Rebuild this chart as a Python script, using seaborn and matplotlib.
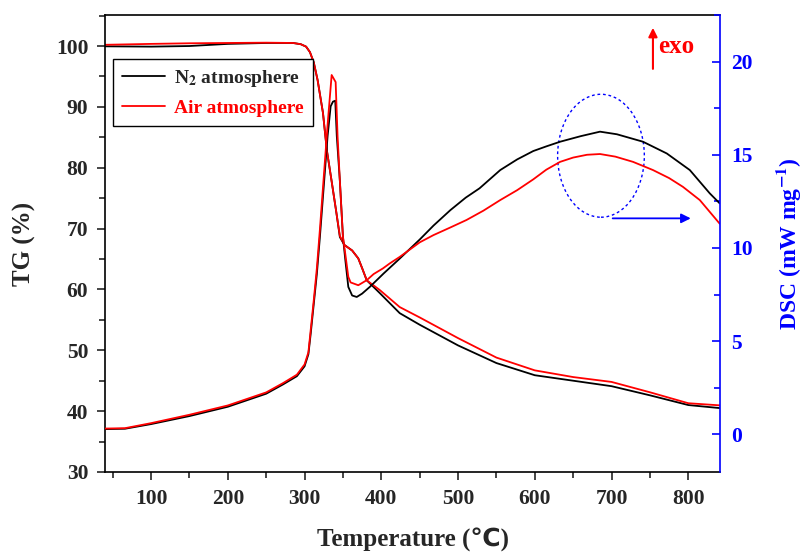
import numpy as np
import pandas as pd
import matplotlib
matplotlib.use("Agg")
import matplotlib.pyplot as plt
import seaborn as sns
from matplotlib.ticker import MultipleLocator
from matplotlib.patches import Ellipse
from matplotlib.lines import Line2D

# ---------------- data ----------------
tg_air_T = [40, 100, 150, 200, 250, 285, 295, 302, 307, 312, 317, 324, 329, 335, 341, 346, 352, 362, 370, 375, 381,
            398, 424, 450, 500, 550, 600, 650, 700, 750, 800, 841]
tg_air = [100.2, 100.35, 100.45, 100.5, 100.55, 100.5, 100.3, 99.9, 99.0, 97.3, 94.4, 89.0, 82.9, 78.0, 73.0, 68.8,
          67.3, 66.4, 65.1, 63.5, 61.5, 59.9, 57.1, 55.4, 52.0, 48.8, 46.7, 45.6, 44.8, 43.1, 41.3, 40.95]

tg_n2_T = [40, 100, 150, 200, 250, 285, 295, 302, 307, 312, 317, 324, 329, 335, 341, 346, 352, 362, 370, 375, 381,
           398, 424, 450, 500, 550, 600, 650, 700, 750, 800, 841]
tg_n2 = [99.95, 99.9, 100.0, 100.35, 100.5, 100.5, 100.3, 99.9, 99.0, 97.3, 94.4, 89.0, 82.9, 78.0, 73.0, 68.6,
         67.3, 66.4, 65.1, 63.5, 61.5, 59.4, 56.1, 54.2, 50.8, 47.9, 45.9, 45.0, 44.1, 42.6, 41.0, 40.5]

dsc_air_T = [40, 66, 100, 150, 200, 250, 272, 290, 300, 305, 308, 312, 316, 320, 325, 330, 335.3, 340.5, 343,
             346, 350, 353, 357, 360, 370, 381, 390, 402, 411, 424, 450, 468, 490, 511, 533, 555, 577, 598, 615,
             633, 650, 668, 685, 705, 728, 754, 775, 793, 815, 841]
dsc_air = [0.31, 0.33, 0.6, 1.05, 1.55, 2.25, 2.75, 3.2, 3.75, 4.4, 5.6, 7.2, 8.9, 11.0, 13.8, 16.6, 19.28, 18.9,
           16.0, 13.6, 10.6, 9.7, 8.45, 8.15, 8.0, 8.27, 8.6, 8.9, 9.17, 9.52, 10.3, 10.69, 11.1, 11.5, 12.0, 12.57,
           13.1, 13.68, 14.2, 14.62, 14.85, 15.0, 15.04, 14.9, 14.62, 14.18, 13.75, 13.28, 12.57, 11.3]

dsc_n2_T = [40, 66, 100, 150, 200, 250, 272, 290, 300, 305, 308, 312, 316, 320, 325, 330, 334, 337, 340, 342,
            346, 350, 353, 357, 362, 368, 375, 385, 403, 424, 450, 468, 490, 510, 528, 555, 577, 598, 615, 633,
            660, 685, 707, 741, 772, 802, 828, 841]
dsc_n2 = [0.28, 0.3, 0.55, 0.98, 1.48, 2.18, 2.68, 3.12, 3.65, 4.3, 5.4, 7.0, 8.6, 10.6, 13.3, 16.0, 17.6, 17.85,
          17.9, 16.0, 13.6, 10.6, 9.4, 7.91, 7.45, 7.37, 7.55, 7.91, 8.63, 9.43, 10.45, 11.2, 12.03, 12.7, 13.2,
          14.18, 14.75, 15.2, 15.45, 15.7, 16.0, 16.24, 16.1, 15.7, 15.07, 14.18, 12.93, 12.39]

x_ticks = [100, 200, 300, 400, 500, 600, 700, 800]
tg_ticks = [30, 40, 50, 60, 70, 80, 90, 100]
dsc_ticks = [0, 5, 10, 15, 20]
legend_labels = [r"N$_{\mathbf{2}}$ atmosphere", "Air atmosphere"]

# ---------------- style ----------------
sns.set_style("ticks")
plt.rcParams["font.family"] = ["Liberation Serif", "DejaVu Sans", "Noto Sans CJK SC"]
plt.rcParams["font.weight"] = "bold"
plt.rcParams["mathtext.fontset"] = "stix"
plt.rcParams["axes.linewidth"] = 1.2

BLUE = "#0000FF"
RED = "#FF0000"

fig = plt.figure(figsize=(8.03, 5.53), dpi=100)
ax = fig.add_axes([0.1308, 0.1465, 0.8966 - 0.1308, 0.9729 - 0.1465])
ax2 = ax.twinx()

df_tg_n2 = pd.DataFrame({"T": tg_n2_T, "v": tg_n2})
df_tg_air = pd.DataFrame({"T": tg_air_T, "v": tg_air})
df_dsc_n2 = pd.DataFrame({"T": dsc_n2_T, "v": dsc_n2})
df_dsc_air = pd.DataFrame({"T": dsc_air_T, "v": dsc_air})

lw = 1.3
sns.lineplot(data=df_tg_n2, x="T", y="v", ax=ax, color="black", lw=lw, estimator=None, sort=False)
sns.lineplot(data=df_tg_air, x="T", y="v", ax=ax, color=RED, lw=lw, estimator=None, sort=False)
sns.lineplot(data=df_dsc_n2, x="T", y="v", ax=ax2, color="black", lw=lw, estimator=None, sort=False)
sns.lineplot(data=df_dsc_air, x="T", y="v", ax=ax2, color=RED, lw=lw, estimator=None, sort=False)

ax.set_xlim(40, 841.3)
ax.set_ylim(30, 105.1)
ax2.set_ylim(-2.02, 22.5)

ax.set_xticks(x_ticks)
ax.xaxis.set_minor_locator(MultipleLocator(50))
ax.set_yticks(tg_ticks)
ax.yaxis.set_minor_locator(MultipleLocator(5))
ax2.set_yticks(dsc_ticks)
ax2.yaxis.set_minor_locator(MultipleLocator(2.5))

tick_fs = 15.5
ax.tick_params(axis="both", which="major", direction="out", length=6, width=1.2, labelsize=tick_fs, pad=6,
               top=False, right=False)
ax.tick_params(axis="both", which="minor", direction="out", length=4, width=1.2, top=False, right=False)
ax2.tick_params(axis="y", which="major", direction="in", length=6, width=1.2, colors=BLUE, labelsize=tick_fs, pad=8)
ax2.tick_params(axis="y", which="minor", direction="in", length=4, width=1.2, colors=BLUE)
for lab in ax.get_xticklabels() + ax.get_yticklabels() + ax2.get_yticklabels():
    lab.set_fontweight("bold")

ax2.spines["right"].set_color(BLUE)
ax.spines["right"].set_visible(False)
for s in ["top", "left", "bottom"]:
    ax2.spines[s].set_visible(False)
    ax.spines[s].set_color("black")

ax.set_xlabel("Temperature (℃)", fontsize=18, fontweight="bold", labelpad=13)
ax.set_ylabel("TG (%)", fontsize=18, fontweight="bold", labelpad=14)
ax2.set_ylabel(r"DSC (mW mg$^{\mathbf{-1}}$)", fontsize=17, fontweight="bold", color=BLUE, labelpad=15)

# legend
handles = [Line2D([0], [0], color="black", lw=lw), Line2D([0], [0], color=RED, lw=lw)]
leg = ax.legend(handles, legend_labels, loc="upper left", bbox_to_anchor=(0.013, 0.904), borderaxespad=0,
                frameon=True, fancybox=False, edgecolor="black", framealpha=1,
                prop={"weight": "bold", "size": 14}, handlelength=2.2, handletextpad=0.5,
                borderpad=0.45, labelspacing=0.55)
leg.get_frame().set_linewidth(1.0)
leg.get_texts()[1].set_color(RED)

# annotations
ell = Ellipse((0.8065, 0.692), 0.141, 0.269, transform=ax.transAxes, fill=False,
              edgecolor=BLUE, linestyle=(0, (2, 2)), lw=1.0)
ax.add_patch(ell)
ax.annotate("", xy=(0.957, 0.555), xytext=(0.821, 0.555), xycoords="axes fraction",
            arrowprops=dict(arrowstyle="-|>", color=BLUE, lw=1.3, mutation_scale=14))
ax.annotate("", xy=(0.891, 0.978), xytext=(0.891, 0.876), xycoords="axes fraction",
            arrowprops=dict(arrowstyle="-|>", color=RED, lw=1.5, mutation_scale=13))
ax.text(0.9, 0.932, "exo", transform=ax.transAxes, color=RED, fontsize=18, fontweight="bold",
        ha="left", va="center")

fig.savefig("out.png", dpi=100)
